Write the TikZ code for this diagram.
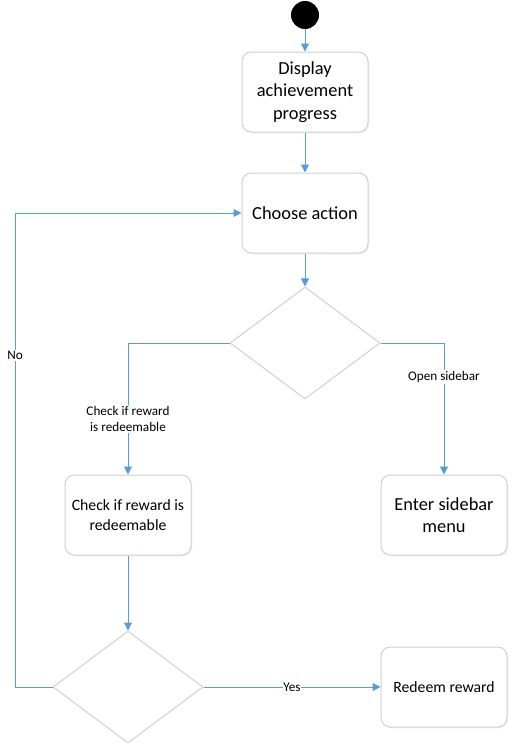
\documentclass[tikz,border=0pt]{standalone}
\usepackage{fontspec}
\setmainfont{Carlito}
\usetikzlibrary{arrows.meta, shapes.geometric, shadows}

\definecolor{flowblue}{HTML}{5B9BD5}
\definecolor{edgegrey}{HTML}{D0D0D0}

\tikzset{
    action/.style={draw=edgegrey, line width=0.75pt, fill=white, rounded corners=7pt,
        minimum width=94.5pt, minimum height=60pt, align=center,
        drop shadow={opacity=0.12, shadow xshift=1pt, shadow yshift=-1pt},
        font=\fontsize{11.8}{15}\selectfont},
    bigaction/.style={action, font=\fontsize{13.8}{17}\selectfont},
    decision/.style={diamond, draw=edgegrey, line width=0.75pt, fill=white,
        minimum width=112.5pt, minimum height=84pt, inner sep=0pt},
    flow/.style={draw=flowblue, line width=0.75pt, -{Triangle[length=6pt, width=6pt]}},
    guard/.style={fill=white, inner sep=1pt, align=center, font=\fontsize{9.9}{12}\selectfont}
}

\begin{document}
\begin{tikzpicture}[x=0.75pt, y=-0.75pt]
        \useasboundingbox (0, 0) rectangle (514, 753);

        \node (start) at (305, 15) [circle, fill=black, minimum size=21pt, inner sep=0pt] {};

        \node (display) at (305, 92) [bigaction] {Display\\achievement\\progress};
        \node (choose) at (305, 213) [bigaction] {Choose action};
        \node (pick) at (305, 343) [decision] {};
        \node (check) at (128, 515) [action] {Check if reward is\\redeemable};
        \node (sidebar) at (444, 515) [bigaction, font=\fontsize{13.8}{16.5}\selectfont] {Enter sidebar\\menu};
        \node (redeemable) at (128, 687) [decision] {};
        \node (redeem) at (444, 687) [action] {Redeem reward};

        \coordinate (back) at (15, 687);

        \draw[flow] (start) -- (display);
        \draw[flow] (display) -- (choose);
        \draw[flow] (choose) -- (pick);
        \draw[flow] (pick.west) -| node[guard, pos=0.79] {Check if reward\\is redeemable} (check.north);
        \draw[flow] (pick.east) -| node[guard, pos=0.63] {Open sidebar} (sidebar.north);
        \draw[flow] (check) -- (redeemable);
        \draw[flow] (redeemable.east) -- node[guard, inner sep=0pt] {Yes} (redeem.west);
        \draw[flow] (redeemable.west) -- (back) |- node[guard, pos=0.35] {No} (choose.west);
    \end{tikzpicture}
\end{document}
